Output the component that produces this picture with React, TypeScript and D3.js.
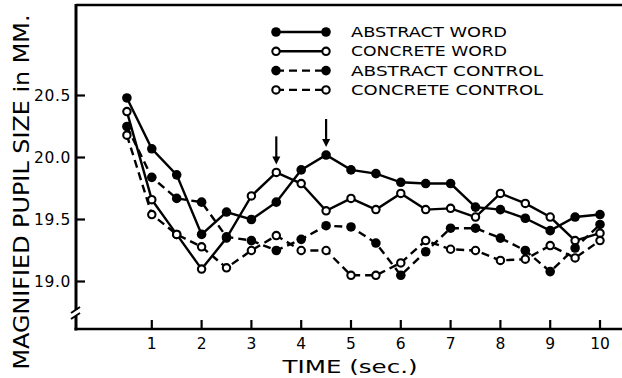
import React from "react";
import * as d3 from "d3";

// time points (sec.)
const times = [0.5, 1, 1.5, 2, 2.5, 3, 3.5, 4, 4.5, 5, 5.5, 6, 6.5, 7, 7.5, 8, 8.5, 9, 9.5, 10];

// pupil size (magnified, mm)
const abstractWord = [20.48, 20.07, 19.86, 19.38, 19.56, 19.5, 19.64, 19.9, 20.02, 19.9, 19.87, 19.8, 19.79, 19.79, 19.6, 19.58, 19.51, 19.41, 19.52, 19.54];
const concreteWord = [20.37, 19.66, 19.38, 19.1, 19.35, 19.69, 19.88, 19.79, 19.57, 19.67, 19.58, 19.71, 19.58, 19.59, 19.52, 19.71, 19.63, 19.52, 19.33, 19.39];
const abstractControl = [20.25, 19.84, 19.67, 19.64, 19.36, 19.33, 19.25, 19.34, 19.45, 19.44, 19.31, 19.05, 19.24, 19.43, 19.43, 19.35, 19.25, 19.08, 19.27, 19.46];
const concreteControl = [20.18, 19.54, 19.38, 19.28, 19.11, 19.25, 19.37, 19.25, 19.25, 19.05, 19.05, 19.15, 19.33, 19.26, 19.25, 19.17, 19.18, 19.29, 19.19, 19.33];

const xTicks = [1, 2, 3, 4, 5, 6, 7, 8, 9, 10];
const yTicks = [19.0, 19.5, 20.0, 20.5];
const seriesNames = ["ABSTRACT WORD", "CONCRETE WORD", "ABSTRACT CONTROL", "CONCRETE CONTROL"];
// arrows mark the peaks of the word curves
const arrowTimes = [3.5, 4.5];

const W = 622;
const H = 378;
const font = "'DejaVu Sans', sans-serif";

const series = [
  { name: seriesNames[0], values: abstractWord, filled: true, dashed: false },
  { name: seriesNames[1], values: concreteWord, filled: false, dashed: false },
  { name: seriesNames[2], values: abstractControl, filled: true, dashed: true },
  { name: seriesNames[3], values: concreteControl, filled: false, dashed: true },
];

const Marker = ({ cx, cy, filled }: { cx: number; cy: number; filled: boolean }) =>
  filled ? (
    <circle cx={cx} cy={cy} r={4.8} fill="#000" />
  ) : (
    <circle cx={cx} cy={cy} r={3.7} fill="#fff" stroke="#000" strokeWidth={2.1} />
  );

const App = () => {
  const x = d3.scaleLinear().domain([0, 10]).range([102, 600]);
  const y = d3.scaleLinear().domain([19, 20.5]).range([281.5, 95.5]);

  const line = d3
    .line<number>()
    .x((_, i) => x(times[i]))
    .y((d) => y(d));

  const axisX = 76;
  const axisY = 329;
  const topY = 5;

  return (
    <svg width={W} height={H} style={{ position: "absolute", left: 0, top: 0, background: "#fff" }}>
      {/* frame */}
      <line x1={axisX} y1={topY} x2={W} y2={topY} stroke="#000" strokeWidth={2.5} />
      <line x1={axisX} y1={topY - 1} x2={axisX} y2={axisY + 1.5} stroke="#000" strokeWidth={3} />
      <line x1={axisX - 1.5} y1={axisY} x2={W} y2={axisY} stroke="#000" strokeWidth={2.5} />

      {/* axis break */}
      <rect x={axisX - 3} y={310} width={6} height={6} fill="#fff" />
      <line x1={axisX - 5} y1={313} x2={axisX + 4} y2={307} stroke="#000" strokeWidth={2} />
      <line x1={axisX - 5} y1={319} x2={axisX + 4} y2={313} stroke="#000" strokeWidth={2} />

      {/* y ticks */}
      {yTicks.map((t) => (
        <g key={t}>
          <line x1={axisX} x2={axisX + 9} y1={y(t)} y2={y(t)} stroke="#000" strokeWidth={2.2} />
          <text x={71} y={y(t) + 5.5} textAnchor="end" fontFamily={font} fontSize={15.5} letterSpacing={0.6}>
            {t.toFixed(1)}
          </text>
        </g>
      ))}

      {/* x ticks */}
      {xTicks.map((t) => (
        <g key={t}>
          <line x1={x(t)} x2={x(t)} y1={axisY} y2={axisY - 9} stroke="#000" strokeWidth={2.2} />
          <text x={x(t)} y={348.5} textAnchor="middle" fontFamily={font} fontSize={15.5}>
            {t}
          </text>
        </g>
      ))}

      {/* axis titles */}
      <text x={350} y={373} textAnchor="middle" fontFamily={font} fontSize={18.5} textLength={135} lengthAdjust="spacingAndGlyphs">
        TIME (sec.)
      </text>
      <text
        transform="translate(29,192) rotate(-90)"
        textAnchor="middle"
        fontFamily={font}
        fontSize={20.5}
        textLength={355}
        lengthAdjust="spacingAndGlyphs"
      >
        MAGNIFIED PUPIL SIZE in MM.
      </text>

      {/* series */}
      {series.map((s) => (
        <g key={s.name}>
          <path
            d={line(s.values) || ""}
            fill="none"
            stroke="#000"
            strokeWidth={2.4}
            strokeDasharray={s.dashed ? "8,5" : undefined}
          />
          {s.values.map((v, i) => (
            <Marker key={i} cx={x(times[i])} cy={y(v)} filled={s.filled} />
          ))}
        </g>
      ))}

      {/* arrows */}
      {arrowTimes.map((t) => {
        const i = times.indexOf(t);
        const peak = Math.max(abstractWord[i], concreteWord[i]);
        const tip = y(peak) - 8;
        return (
          <g key={t}>
            <line x1={x(t)} x2={x(t)} y1={tip - 28} y2={tip - 6} stroke="#000" strokeWidth={2.2} />
            <path d={`M${x(t) - 4},${tip - 8} L${x(t) + 4},${tip - 8} L${x(t)},${tip} Z`} fill="#000" />
          </g>
        );
      })}

      {/* legend */}
      {series.map((s, i) => {
        const ly = 32 + i * 19.3;
        return (
          <g key={s.name}>
            <line
              x1={276}
              x2={326}
              y1={ly}
              y2={ly}
              stroke="#000"
              strokeWidth={2.4}
              strokeDasharray={s.dashed ? "8,5" : undefined}
            />
            <Marker cx={276} cy={ly} filled={s.filled} />
            <Marker cx={326} cy={ly} filled={s.filled} />
            <text
              x={351}
              y={ly + 5}
              fontFamily={font}
              fontSize={13.5}
              textLength={s.name.length * 12}
              lengthAdjust="spacingAndGlyphs"
            >
              {s.name}
            </text>
          </g>
        );
      })}
    </svg>
  );
};

export default App;
